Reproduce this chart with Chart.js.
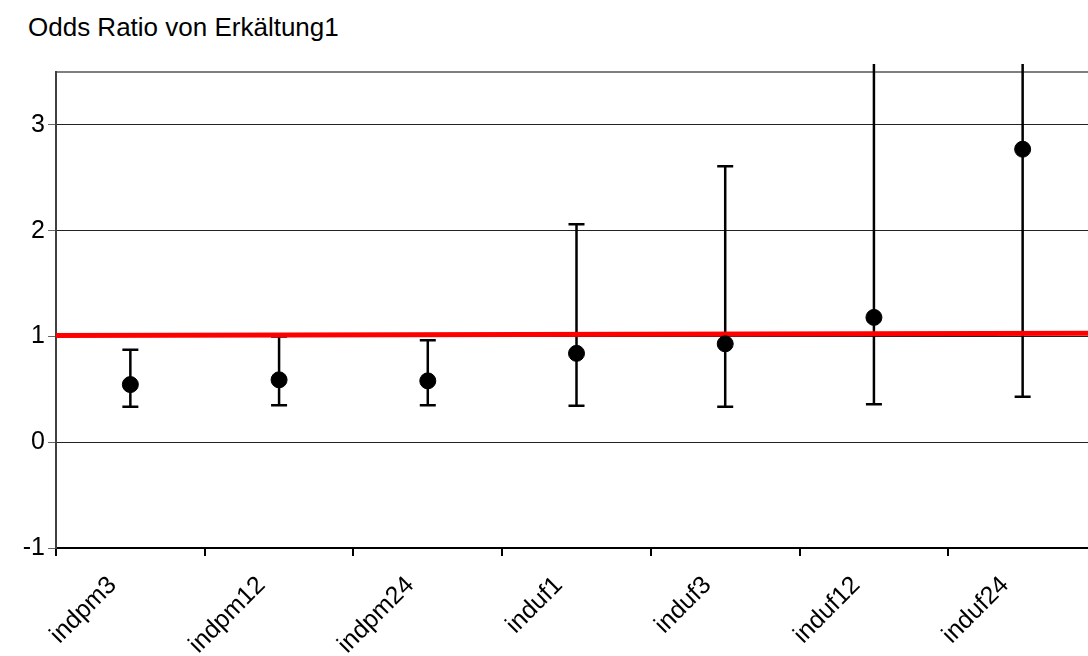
<!DOCTYPE html>
<html><head><meta charset="utf-8">
<script src="https://cdn.jsdelivr.net/npm/chart.js@4.4.0/dist/chart.umd.min.js"></script>
<style>
html,body{margin:0;padding:0;background:#fff;overflow:hidden;width:1088px;height:656px;}
#wrap{position:relative;width:1106px;height:656px;}
#title{position:absolute;left:28px;top:14px;font:26px "Liberation Sans",Arial,sans-serif;line-height:26px;color:#000;white-space:nowrap;}
canvas{position:absolute;left:0;top:0;}
</style></head><body>
<div id="wrap"><div id="title">Odds Ratio von Erkältung1</div><canvas id="c" width="1106" height="656"></canvas></div>
<script>
const categories = ['indpm3','indpm12','indpm24','induf1','induf3','induf12','induf24'];
const oddsRatio = [0.545, 0.59, 0.58, 0.84, 0.93, 1.18, 2.77];
const ciLower = [0.335, 0.35, 0.35, 0.345, 0.335, 0.36, 0.43];
const ciUpper = [0.875, 1.0, 0.965, 2.06, 2.61, 3.9, 17.8];
const refLineX = [-0.5, 6.5];
const refLineY = [1.01, 1.03];
const yTicks = [-1, 0, 1, 2, 3];
const yMin = -1, yMax = 3.5;

const FONT = '"Liberation Sans", Arial, sans-serif';

const errorBars = {
  id: 'errorBars',
  beforeDatasetsDraw(chart) {
    const ctx = chart.ctx, xs = chart.scales.x, ys = chart.scales.y, a = chart.chartArea;
    ctx.save();
    ctx.beginPath();
    ctx.rect(a.left, a.top - 8, a.right - a.left, a.bottom - a.top + 8);
    ctx.clip();
    ctx.strokeStyle = '#000';
    ctx.lineWidth = 2.5;
    categories.forEach((c, i) => {
      const px = xs.getPixelForValue(i);
      const lo = ys.getPixelForValue(ciLower[i]);
      const hi = ys.getPixelForValue(ciUpper[i]);
      ctx.beginPath();
      ctx.moveTo(px, lo); ctx.lineTo(px, hi);
      ctx.moveTo(px - 8, lo); ctx.lineTo(px + 8, lo);
      ctx.moveTo(px - 8, hi); ctx.lineTo(px + 8, hi);
      ctx.stroke();
    });
    ctx.restore();
  }
};

new Chart(document.getElementById('c'), {
  type: 'scatter',
  data: {
    datasets: [
      {
        label: 'Odds Ratio',
        data: oddsRatio.map((v, i) => ({ x: categories[i], y: v })),
        xAxisID: 'x', yAxisID: 'y',
        backgroundColor: '#000', borderColor: '#000',
        pointRadius: 8, pointHoverRadius: 8, showLine: false
      },
      {
        label: 'Referenz',
        type: 'line',
        data: refLineX.map((x, i) => ({ x: x, y: refLineY[i] })),
        xAxisID: 'xr', yAxisID: 'y',
        borderColor: '#ff0000', borderWidth: 5, pointRadius: 0, fill: false, tension: 0
      }
    ]
  },
  options: {
    responsive: false,
    animation: false,
    layout: { padding: { top: 72, right: 6, left: 0, bottom: 0 } },
    plugins: { legend: { display: false }, title: { display: false }, tooltip: { enabled: false } },
    scales: {
      x: {
        type: 'category',
        labels: categories,
        offset: true,
        grid: { offset: true, drawOnChartArea: false, color: '#000', lineWidth: 2, tickLength: 8 },
        border: { color: '#000', width: 2 },
        ticks: {
          minRotation: 45, maxRotation: 45, color: '#000', font: { family: FONT, size: 25 }, padding: -3, autoSkip: false,
          callback: (v, i) => categories[i] + '\u2002\u2002'
        },
        afterFit(s) { s.height = 108; }
      },
      xr: { type: 'linear', min: -0.5, max: 6.5, display: false },
      y: {
        min: yMin, max: yMax,
        afterBuildTicks(s) { s.ticks = yTicks.concat([yMax]).map(v => ({ value: v })); },
        ticks: {
          color: '#000', font: { family: FONT, size: 25 }, padding: 3,
          callback: (v) => yTicks.includes(v) ? String(v) : ''
        },
        grid: {
          color: (c) => c.tick && c.tick.value === yMax ? '#808080' : '#222',
          lineWidth: (c) => c.tick && c.tick.value === yMax ? 2 : 1,
          tickColor: (c) => c.tick && c.tick.value === yMax ? 'rgba(0,0,0,0)' : '#666',
          tickLength: 8
        },
        border: { color: '#404040', width: 2 },
        afterFit(s) { s.width = 56; }
      }
    }
  },
  plugins: [errorBars]
});
</script>
</body></html>
